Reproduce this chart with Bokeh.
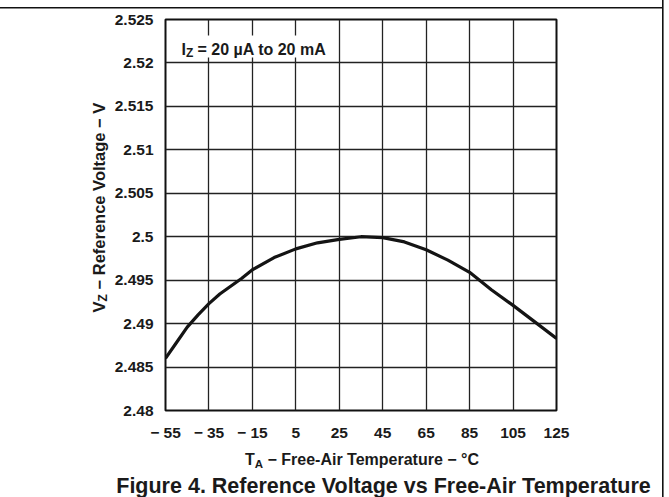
import math
from bokeh.plotting import figure
from bokeh.models import Range1d, FixedTicker, Label, BoxAnnotation
from bokeh.embed import file_html
from bokeh.resources import INLINE

# ---- data ----
temps = [-55, -50, -45, -40, -35, -30, -25, -20, -15, -5, 5, 15, 25, 35, 45, 55, 65, 75, 85, 95, 105, 115, 125]
vref = [2.4860, 2.4878, 2.4896, 2.4910, 2.4923, 2.4934, 2.4943, 2.4952, 2.4962, 2.4976, 2.4986,
        2.4993, 2.4997, 2.5000, 2.4999, 2.4994, 2.4985, 2.4973, 2.4959, 2.4939, 2.4921, 2.4902, 2.4883]
x_ticks = [-55, -35, -15, 5, 25, 45, 65, 85, 105, 125]
x_tick_labels = ["\u2212 55", "\u2212 35", "\u2212 15", "5", "25", "45", "65", "85", "105", "125"]
y_ticks = [2.48, 2.485, 2.49, 2.495, 2.5, 2.505, 2.51, 2.515, 2.52, 2.525]
y_tick_labels = ["2.48", "2.485", "2.49", "2.495", "2.5", "2.505", "2.51", "2.515", "2.52", "2.525"]

FONT = "Liberation Sans"
W, H = 669, 497
FL, FT, FW, FH = 165, 19, 391, 391   # frame placement inside the canvas

x0, x1 = -55, 125
y0, y1 = 2.48, 2.525

p = figure(width=W, height=H, x_range=Range1d(x0, x1), y_range=Range1d(y0, y1),
           output_backend="svg", toolbar_location=None,
           min_border_left=FL, min_border_top=FT,
           min_border_right=W - FL - FW, min_border_bottom=H - FT - FH)
p.background_fill_color = "white"
p.border_fill_alpha = 0
p.outline_line_color = "#111111"
p.outline_line_width = 2
# cell border lines (top and right) of the datasheet figure box
p.styles = {
    "background-color": "white",
    "background-image": "linear-gradient(#111111, #111111), linear-gradient(#111111, #111111)",
    "background-size": "663px 1.5px, 1.6px 100%",
    "background-position": "0px 7.3px, 662px 0px",
    "background-repeat": "no-repeat",
}

p.xaxis.ticker = FixedTicker(ticks=x_ticks)
p.yaxis.ticker = FixedTicker(ticks=y_ticks)
p.xaxis.major_label_overrides = {t: s for t, s in zip(x_ticks, x_tick_labels)}
p.yaxis.major_label_overrides = {t: s for t, s in zip(y_ticks, y_tick_labels)}
for ax in (p.xaxis[0], p.yaxis[0]):
    ax.axis_line_color = None
    ax.major_tick_line_color = None
    ax.minor_tick_line_color = None
    ax.major_label_text_font = FONT
    ax.major_label_text_font_style = "bold"
    ax.major_label_text_font_size = "15.5px"
    ax.major_label_text_color = "#1a1a1a"
p.xaxis.major_label_standoff = 7
p.yaxis.major_label_standoff = 6

p.xgrid.ticker = FixedTicker(ticks=x_ticks)
p.ygrid.ticker = FixedTicker(ticks=y_ticks)
p.grid.grid_line_color = "#222222"
p.grid.grid_line_width = 1.3

p.line(temps, vref, line_color="#141414", line_width=3.2, line_join="round")

# helpers converting canvas pixel positions to data coordinates (for text placement)
def cx(px):
    return x0 + (px - FL) * (x1 - x0) / FW

def cy(py):
    return y1 - (py - FT) * (y1 - y0) / FH

# white box behind the condition note
p.add_layout(BoxAnnotation(left=cx(175), right=cx(336), top=cy(35), bottom=cy(57),
                           fill_color="white", fill_alpha=1.0, line_color=None))

def lab(x, y, text, size, angle=0.0, align="left", place=None):
    l = Label(x=x, y=y, text=text, text_font=FONT, text_font_style="bold",
              text_font_size=size, text_color="#1a1a1a", angle=angle,
              text_align=align, text_baseline="alphabetic")
    if place is None:
        p.add_layout(l)
    else:
        p.add_layout(l, place)

# condition note: I_Z = 20 µA to 20 mA
lab(cx(181), cy(48.5), "I", "16px")
lab(cx(185.5), cy(52.5), "Z", "12px")
lab(cx(197), cy(48.5), "= 20 \u00b5A to 20 mA", "16px")

# x-axis title: T_A − Free-Air Temperature − °C
lab(cx(244.5), cy(459), "T", "16px", place="left")
lab(cx(254.3), cy(463), "A", "11.5px", place="left")
lab(cx(267), cy(459), "\u2212 Free-Air Temperature \u2212 \u00b0C", "16px", place="below")

# y-axis title: V_Z − Reference Voltage − V (rotated)
ang = math.pi / 2
lab(cx(98), cy(312), "V", "16.5px", angle=ang, place="left")
lab(cx(102), cy(301), "Z", "12px", angle=ang, place="left")
lab(cx(98), cy(289), "\u2212 Reference Voltage \u2212 V", "16.5px", angle=ang, place="left")

# caption
lab(cx(383), cy(485), "Figure 4. Reference Voltage vs Free-Air Temperature", "21.5px",
    align="center", place="below")

open("out.html", "w").write(file_html(p, INLINE))
